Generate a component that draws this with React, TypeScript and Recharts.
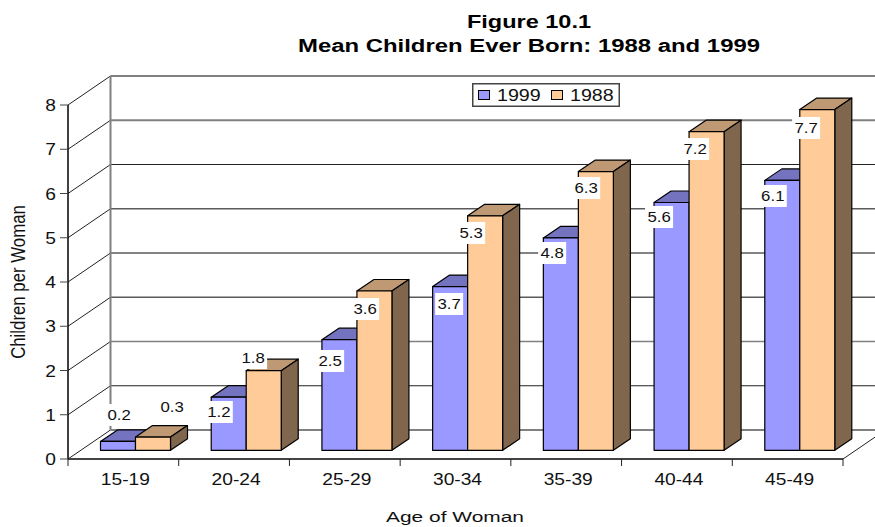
import React from 'react';
import {Bar, BarChart, CartesianGrid, LabelList, Legend, XAxis, YAxis} from 'recharts';

const ages = ['15-19', '20-24', '25-29', '30-34', '35-39', '40-44', '45-49'];
const values1999 = [0.2, 1.2, 2.5, 3.7, 4.8, 5.6, 6.1];
const values1988 = [0.3, 1.8, 3.6, 5.3, 6.3, 7.2, 7.7];
const yTicks = [0, 1, 2, 3, 4, 5, 6, 7, 8];

const data = ages.map((age, i) => ({age, y1999: values1999[i], y1988: values1988[i]}));

const WIDTH = 875;
const HEIGHT = 527;
const PLOT_LEFT = 68;
const PLOT_RIGHT = 843;
const BAND = (PLOT_RIGHT - PLOT_LEFT) / ages.length;
const STRETCH = 1.2;
const FONT = '"Liberation Sans", Arial, sans-serif';

// the floor and back wall sit this far behind the axes
const WALL_DX = 42.5;
const WALL_DY = -29;
// bars stand in the middle of the floor
const BAR_DX = 12.5;
const BAR_DY = -8.7;
const BAR_DEPTH_X = 17;
const BAR_DEPTH_Y = -11.5;

const blue = {front: '#9999FF', top: '#7373BF', side: '#5C5C99'};
const peach = {front: '#FFCC99', top: '#BF9973', side: '#80664D'};

// where each value label sits, measured from the bar's top left corner
const nudge1999 = [[18.6, -26.5], [7.6, 14.8], [8.2, 21.3], [16.5, 17.4], [8.8, 15.1], [5, 14.5], [8, 15.6]];
const nudge1988 = [[36.6, -30], [6.9, -12.6], [8.2, 18], [3.5, 17.2], [7.8, 16.5], [6, 17.3], [6.3, 18.4]];

// the source image is stretched sideways, the grid lines came out uneven
const gridStyle: Record<number, {stroke: string; strokeWidth: number}> = {
    8: {stroke: '#808080', strokeWidth: 2},
    7: {stroke: '#808080', strokeWidth: 2},
    6: {stroke: '#222222', strokeWidth: 1},
    5: {stroke: '#5a5a5a', strokeWidth: 1.5},
    4: {stroke: '#5a5a5a', strokeWidth: 1.5},
    3: {stroke: '#5a5a5a', strokeWidth: 1.5},
    2: {stroke: '#808080', strokeWidth: 1.5},
    1: {stroke: '#222222', strokeWidth: 1},
    0: {stroke: '#808080', strokeWidth: 2},
};

function Box3D({x, y, width, height, colors}: any) {
    const fx = x + BAR_DX;
    const fy = y + BAR_DY;
    const dx = BAR_DEPTH_X;
    const dy = BAR_DEPTH_Y;
    const line = {stroke: '#000000', strokeWidth: 1.2, strokeLinejoin: 'round' as const};
    return (
        <g>
            <polygon points={`${fx},${fy} ${fx + dx},${fy + dy} ${fx + width + dx},${fy + dy} ${fx + width},${fy}`} fill={colors.top} {...line} />
            <polygon points={`${fx + width},${fy} ${fx + width + dx},${fy + dy} ${fx + width + dx},${fy + height + dy} ${fx + width},${fy + height}`} fill={colors.side} {...line} />
            <rect x={fx} y={fy} width={width} height={height} fill={colors.front} {...line} />
        </g>
    );
}

function ValueLabel({x, y, value, index, nudges}: any) {
    const cx = x + BAR_DX + nudges[index][0];
    const cy = y + BAR_DY + nudges[index][1];
    return (
        <g>
            <rect x={cx - 14} y={cy - 11} width={28} height={22} fill="#ffffff" />
            <text
                transform={`translate(${cx},${cy + 5}) scale(${STRETCH},1)`}
                textAnchor="middle"
                fontFamily={FONT}
                fontSize={14}
                fill="#111111"
            >
                {value}
            </text>
        </g>
    );
}

function GridLine({x1, y1, x2, index}: any) {
    const value = yTicks[index];
    const style = gridStyle[value] ?? gridStyle[6];
    return (
        <g>
            <line x1={x1} y1={y1} x2={x1 + WALL_DX} y2={y1 + WALL_DY} stroke="#222222" strokeWidth={1} />
            <line x1={x1 + WALL_DX} y1={y1 + WALL_DY} x2={x2 + WALL_DX} y2={y1 + WALL_DY} {...style} />
            {value === 8 && (
                <line x1={x1 + WALL_DX} y1={y1 + WALL_DY} x2={x1 + WALL_DX} y2={y1 + WALL_DY + 354} stroke="#808080" strokeWidth={2} />
            )}
            {value === 0 && (
                <line x1={x2} y1={y1} x2={x2 + WALL_DX} y2={y1 + WALL_DY} stroke="#222222" strokeWidth={1} />
            )}
        </g>
    );
}

function YTick({x, y, payload}: any) {
    return (
        <text
            transform={`translate(${x},${y + 6}) scale(${STRETCH},1)`}
            textAnchor="end"
            fontFamily={FONT}
            fontSize={16}
            fill="#111111"
        >
            {payload.value}
        </text>
    );
}

function XTick({x, payload, index}: any) {
    const last = index === ages.length - 1;
    return (
        <g>
            <line x1={x - BAND / 2} y1={459} x2={x - BAND / 2} y2={466} stroke="#222222" />
            {last && <line x1={x + BAND / 2} y1={459} x2={x + BAND / 2} y2={466} stroke="#222222" />}
            <text
                transform={`translate(${x + 2},${485}) scale(${STRETCH},1)`}
                textAnchor="middle"
                fontFamily={FONT}
                fontSize={16}
                fill="#111111"
            >
                {payload.value}
            </text>
        </g>
    );
}

function LegendBox({payload}: any) {
    const items = payload ?? [];
    return (
        <svg width={148} height={24} style={{display: 'block'}}>
            <rect x={0.75} y={0.75} width={146.5} height={22.5} fill="#ffffff" stroke="#444444" strokeWidth={1.5} />
            {items.map((item: any, i: number) => (
                <g key={item.value} transform={`translate(${6 + i * 73},0)`}>
                    <rect x={0.5} y={7.5} width={11} height={9} fill={item.color} stroke="#000000" />
                    <text
                        transform={`translate(19,18) scale(1.23,1)`}
                        fontFamily={FONT}
                        fontSize={16}
                        fill="#111111"
                    >
                        {item.value}
                    </text>
                </g>
            ))}
        </svg>
    );
}

function Titles() {
    return (
        <g fontFamily={FONT} fill="#000000">
            <text x={467} y={28} fontSize={18} fontWeight="bold" textLength={124} lengthAdjust="spacingAndGlyphs">
                Figure 10.1
            </text>
            <text x={298} y={52} fontSize={18} fontWeight="bold" textLength={462} lengthAdjust="spacingAndGlyphs">
                Mean Children Ever Born: 1988 and 1999
            </text>
            <text x={386} y={522} fontSize={15.5} fill="#111111" textLength={138} lengthAdjust="spacingAndGlyphs">
                Age of Woman
            </text>
            <text
                transform={`translate(25,282) scale(${STRETCH},1) rotate(-90)`}
                textAnchor="middle"
                fontSize={16.8}
                fill="#111111"
            >
                Children per Woman
            </text>
        </g>
    );
}

export default function App() {
    return (
        <div style={{position: 'absolute', left: 0, top: 0, width: WIDTH, height: HEIGHT, background: '#ffffff'}}>
            <BarChart
                width={WIDTH}
                height={HEIGHT}
                data={data}
                margin={{top: 105, right: WIDTH - PLOT_RIGHT, left: 8, bottom: 8}}
                barSize={35}
                barGap={0}
            >
                <CartesianGrid vertical={false} horizontal={(props: any) => <GridLine key={props.key} {...props} />} />
                <XAxis
                    dataKey="age"
                    height={60}
                    interval={0}
                    tickLine={false}
                    axisLine={{stroke: '#444444', strokeWidth: 2}}
                    tick={(props: any) => <XTick {...props} />}
                />
                <YAxis
                    width={60}
                    domain={[0, 8]}
                    ticks={yTicks}
                    interval={0}
                    tickSize={8}
                    tickMargin={4}
                    tickLine={{stroke: '#444444'}}
                    axisLine={{stroke: '#000000', strokeWidth: 1.5}}
                    tick={(props: any) => <YTick {...props} />}
                />
                <Legend
                    layout="horizontal"
                    verticalAlign="middle"
                    align="center"
                    itemSorter={null}
                    wrapperStyle={{left: 472, top: 83, width: 148, height: 24}}
                    content={(props: any) => <LegendBox {...props} />}
                />
                <Bar
                    dataKey="y1999"
                    name="1999"
                    fill={blue.front}
                    isAnimationActive={false}
                    shape={(props: any) => <Box3D {...props} colors={blue} />}
                >
                    <LabelList dataKey="y1999" content={(props: any) => <ValueLabel {...props} nudges={nudge1999} />} />
                </Bar>
                <Bar
                    dataKey="y1988"
                    name="1988"
                    fill={peach.front}
                    isAnimationActive={false}
                    shape={(props: any) => <Box3D {...props} colors={peach} />}
                >
                    <LabelList dataKey="y1988" content={(props: any) => <ValueLabel {...props} nudges={nudge1988} />} />
                </Bar>
                <Titles />
            </BarChart>
        </div>
    );
}
